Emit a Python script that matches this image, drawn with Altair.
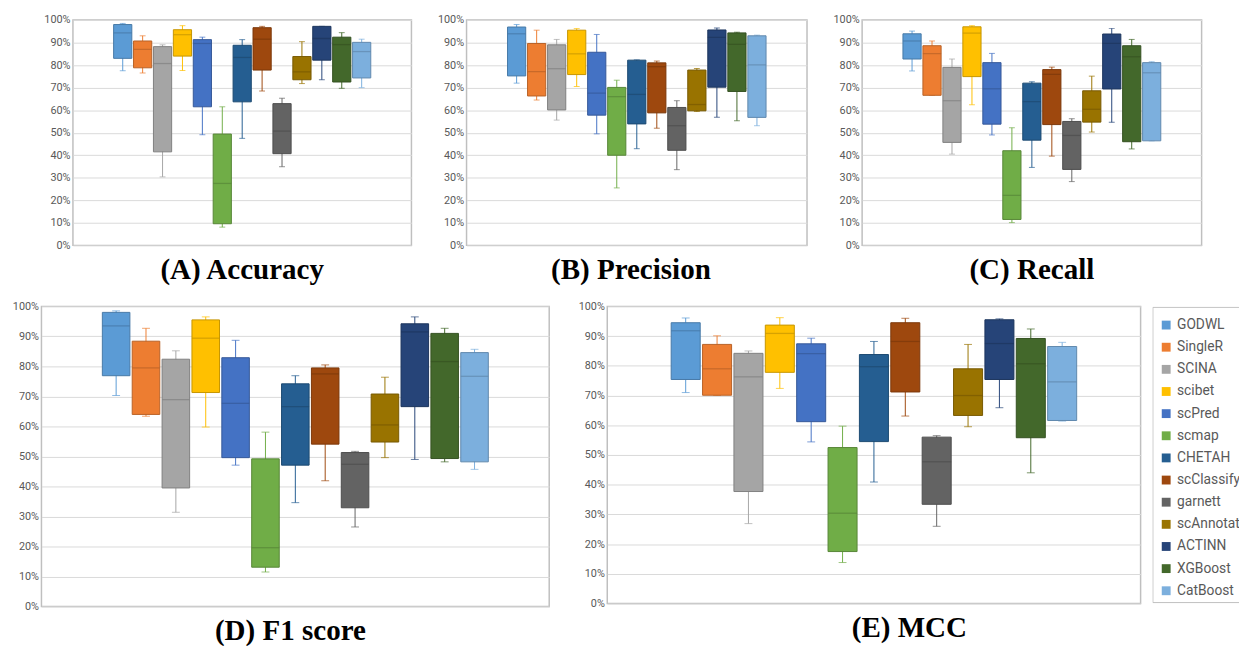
import altair as alt
import pandas as pd

methods = ["GODWL", "SingleR", "SCINA", "scibet", "scPred", "scmap", "CHETAH",
           "scClassify", "garnett", "scAnnotatR", "ACTINN", "XGBoost", "CatBoost"]
colors = ["#5B9BD5", "#ED7D31", "#A5A5A5", "#FFC000", "#4472C4", "#70AD47", "#255E91",
          "#9E480E", "#636363", "#997300", "#264478", "#43682B", "#7CAFDD"]

# Accuracy (%)
acc_low = [77.5, 76.5, 30.4, 77.6, 49.1, 8.1, 47.5, 68.5, 34.9, 71.8, 73.5, 69.7, 70.0]
acc_q1 = [83.0, 78.8, 41.5, 84.0, 61.5, 9.6, 63.7, 77.8, 40.7, 73.5, 82.2, 72.5, 74.3]
acc_med = [94.3, 87.0, 80.7, 93.5, 89.6, 27.5, 83.4, 91.5, 50.7, 77.0, 91.8, 89.1, 86.0]
acc_q3 = [98.0, 90.7, 88.2, 95.7, 91.3, 49.4, 88.8, 96.6, 62.9, 83.8, 97.2, 92.4, 90.1]
acc_high = [98.5, 93.0, 89.0, 97.5, 92.4, 61.5, 91.3, 97.2, 65.3, 90.4, 97.2, 94.4, 91.5]

# Precision (%)
pre_low = [72.0, 64.5, 55.6, 70.5, 49.5, 25.5, 42.9, 52.0, 33.6, 59.4, 56.9, 55.3, 53.1]
pre_q1 = [75.2, 66.3, 60.1, 75.8, 57.8, 40.0, 53.9, 58.8, 42.2, 59.7, 70.2, 68.3, 56.8]
pre_med = [93.9, 77.1, 78.4, 85.0, 67.6, 66.0, 67.0, 79.3, 53.1, 62.5, 92.3, 89.2, 80.1]
pre_q3 = [96.9, 89.6, 89.0, 95.5, 85.7, 70.1, 82.2, 81.0, 61.2, 77.8, 95.6, 94.3, 93.0]
pre_high = [98.0, 95.5, 91.4, 96.2, 93.6, 73.3, 82.3, 81.8, 64.2, 78.5, 96.5, 94.6, 93.3]

# Recall (%)
rec_low = [77.4, 66.6, 40.5, 62.4, 49.0, 10.1, 34.6, 39.6, 28.3, 50.3, 54.6, 42.8, 46.4]
rec_q1 = [82.7, 66.6, 45.7, 74.9, 53.8, 11.5, 46.7, 53.6, 33.7, 54.7, 69.4, 46.0, 46.4]
rec_med = [90.7, 85.1, 64.2, 94.2, 69.5, 22.2, 63.8, 75.9, 48.8, 60.4, 89.6, 83.7, 76.6]
rec_q3 = [93.9, 88.6, 79.0, 97.0, 81.1, 42.0, 72.0, 78.0, 55.0, 68.6, 93.8, 88.6, 81.1]
rec_high = [95.1, 90.7, 82.7, 97.5, 85.2, 52.2, 72.6, 79.1, 56.2, 75.1, 96.3, 91.4, 81.5]

# F1 score (%)
f1_low = [70.3, 63.4, 31.4, 59.8, 47.1, 11.5, 34.6, 41.9, 26.5, 49.6, 49.0, 48.2, 45.7]
f1_q1 = [76.9, 64.0, 39.5, 71.3, 49.6, 13.1, 47.1, 54.1, 32.9, 54.8, 66.6, 49.3, 48.2]
f1_med = [93.5, 79.5, 68.9, 89.4, 67.7, 19.6, 66.6, 77.5, 47.4, 60.5, 91.5, 81.6, 76.7]
f1_q3 = [98.0, 88.4, 82.4, 95.5, 82.9, 49.2, 74.2, 79.5, 51.3, 70.8, 94.2, 91.0, 84.6]
f1_high = [98.5, 92.7, 85.2, 96.5, 88.7, 58.1, 76.9, 80.5, 51.7, 76.4, 96.5, 92.7, 85.7]

# MCC (%)
mcc_low = [71.0, 70.0, 26.9, 72.4, 54.4, 13.8, 40.9, 63.1, 26.0, 59.5, 65.9, 44.0, 61.4]
mcc_q1 = [75.4, 70.1, 37.7, 77.8, 61.2, 17.5, 54.5, 71.2, 33.4, 63.3, 75.4, 55.8, 61.6]
mcc_med = [91.8, 79.0, 76.3, 90.9, 84.1, 30.4, 79.7, 88.2, 47.7, 70.0, 87.5, 80.7, 74.6]
mcc_q3 = [94.5, 87.2, 84.2, 93.7, 87.4, 52.5, 83.8, 94.5, 56.0, 79.0, 95.5, 89.2, 86.5]
mcc_high = [96.1, 90.1, 85.0, 96.2, 89.3, 59.7, 88.2, 96.0, 56.5, 87.2, 95.8, 92.4, 87.9]

y_ticks = [round(i * 0.1, 1) for i in range(11)]


def darker(h, f=0.78):
    r, g, b = int(h[1:3], 16), int(h[3:5], 16), int(h[5:7], 16)
    return "#%02x%02x%02x" % (int(r * f), int(g * f), int(b * f))


dark = [darker(c) for c in colors]
one = pd.DataFrame({"a": [0]})


def panel(title, low, q1, med, q3, high, width, height, box, cap, dx):
    df = pd.DataFrame({
        "method": methods,
        "idx": list(range(len(methods))),
        "low": [v / 100 for v in low],
        "q1": [v / 100 for v in q1],
        "med": [v / 100 for v in med],
        "q3": [v / 100 for v in q3],
        "high": [v / 100 for v in high],
    })
    x = alt.X("idx:Q", scale=alt.Scale(domain=[-2.5, 14.5], nice=False, zero=False, padding=0),
              axis=None)
    yscale = alt.Scale(domain=[0, 1], nice=False, zero=True, padding=0)
    yaxis = alt.Axis(values=y_ticks, tickCount=11, format=".0%", grid=True, gridColor="#D9D9D9",
                     gridWidth=1, ticks=False, domain=False, labelFont="Roboto",
                     labelFontSize=11, labelColor="#595959", labelPadding=3,
                     labelOverlap=False, labelFlush=False, title=None)

    def Y(field):
        return alt.Y(field, type="quantitative", scale=yscale, axis=yaxis)

    col = alt.Color("method:N", scale=alt.Scale(domain=methods, range=colors), legend=None)
    strk = alt.Stroke("method:N", scale=alt.Scale(domain=methods, range=dark), legend=None)
    fil = alt.Fill("method:N", scale=alt.Scale(domain=methods, range=dark), legend=None)
    base = alt.Chart(df).encode(x=x)
    whisk = base.mark_rule(strokeWidth=1).encode(y=Y("low"), y2="high:Q", color=col)
    cap_lo = base.mark_tick(orient="horizontal", size=cap, thickness=1).encode(
        y=Y("low"), color=col)
    cap_hi = base.mark_tick(orient="horizontal", size=cap, thickness=1).encode(
        y=Y("high"), color=col)
    boxes = base.mark_bar(size=box, strokeWidth=1, opacity=1).encode(
        y=Y("q1"), y2="q3:Q", color=col, stroke=strk)
    median = base.mark_tick(orient="horizontal", size=box, thickness=1.3).encode(
        y=Y("med"), fill=fil)
    return alt.layer(whisk, cap_lo, cap_hi, boxes, median).properties(
        width=width, height=height,
        title=alt.TitleParams(title, orient="bottom", font="Liberation Serif", fontSize=29.5,
                              fontWeight="bold", color="#000000", offset=6,
                              anchor="middle", frame="group", dx=dx),
    )


pA = panel("(A) Accuracy", acc_low, acc_q1, acc_med, acc_q3, acc_high, 344, 229, 18.5, 6, 0)
pB = panel("(B) Precision", pre_low, pre_q1, pre_med, pre_q3, pre_high, 346, 229, 18.5, 6, -6)
pC = panel("(C) Recall", rec_low, rec_q1, rec_med, rec_q3, rec_high, 345, 229, 18.5, 6, 0)
pD = panel("(D) F1 score", f1_low, f1_q1, f1_med, f1_q3, f1_high, 516, 305, 28, 8, -5)
pE = panel("(E) MCC", mcc_low, mcc_q1, mcc_med, mcc_q3, mcc_high, 542, 302, 29.5, 8, 36)

# small invisible spacer that reserves the left margin of the top row
spacer = alt.Chart(one).mark_rule(color="#ffffff", strokeWidth=1).encode(
    x=alt.value(-29), x2=alt.value(-27), y=alt.value(0)
).properties(width=1, height=10, view=alt.ViewBackground(stroke=None))

leg_df = pd.DataFrame({"method": methods, "idx": list(range(len(methods)))})
ly = alt.Y("idx:Q", scale=alt.Scale(domain=[-0.844, 12.889], reverse=True, nice=False,
                                    zero=False, padding=0), axis=None)
lcol = alt.Color("method:N", scale=alt.Scale(domain=methods, range=colors), legend=None)
leg_border = alt.Chart(one).mark_rect(fillOpacity=0, stroke="#BFBFBF", strokeWidth=1, clip=True).encode(
    x=alt.value(0.5), x2=alt.value(300), y=alt.value(1), y2=alt.value(301))
leg_sq = alt.Chart(leg_df).mark_square(size=81, opacity=1, filled=True).encode(
    x=alt.value(14), y=ly, color=lcol)
leg_tx = alt.Chart(leg_df).mark_text(align="left", baseline="middle", font="Roboto", fontSize=14,
                                     color="#595959", clip=True).encode(
    x=alt.value(25), y=ly, text="method:N")
legend = alt.layer(leg_border, leg_sq, leg_tx).properties(
    width=88, height=309, view=alt.ViewBackground(stroke=None))

top = alt.hconcat(spacer, alt.hconcat(pA, pB, pC, spacing=24), spacing=0)
bottom = alt.hconcat(pD, alt.hconcat(pE, legend, spacing=11), spacing=27)

chart = alt.vconcat(top, bottom, spacing=14).properties(
    padding={"left": 3, "top": 0, "right": 0, "bottom": 0},
    background="white",
).configure_view(stroke="#BFBFBF", strokeWidth=1.5).resolve_scale(color="shared")

chart.save("out.html", embed_options={"renderer": "svg", "actions": False})
